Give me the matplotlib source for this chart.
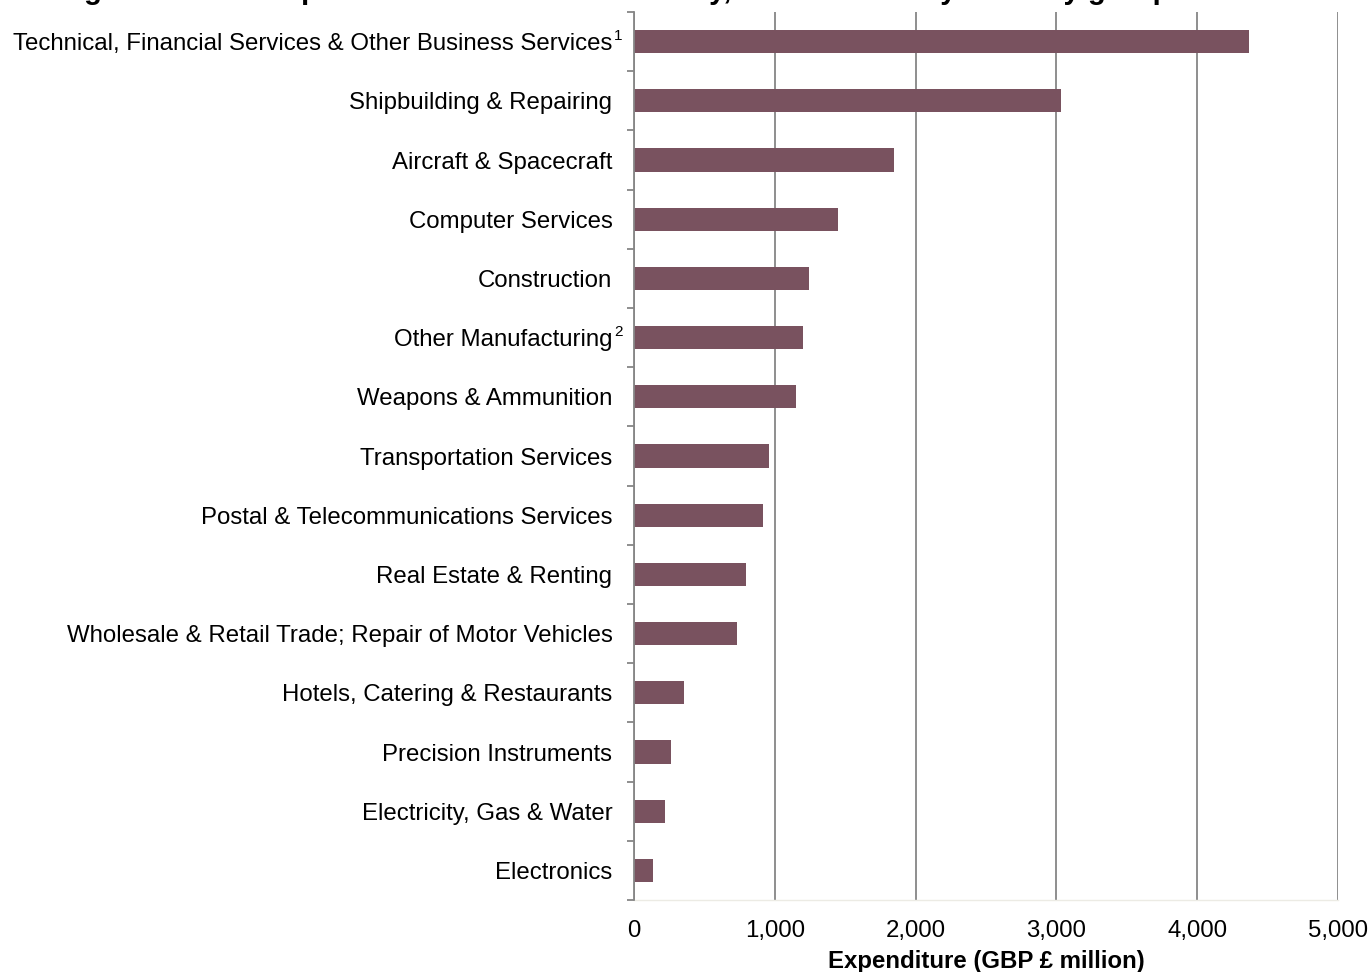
import matplotlib.pyplot as plt
from matplotlib.ticker import FuncFormatter, MultipleLocator
import numpy as np

plt.rcParams['font.family'] = ['Liberation Sans', 'DejaVu Sans']

# data (top to bottom as in the chart)
industries = [
    "Technical, Financial Services & Other Business Services",
    "Shipbuilding & Repairing",
    "Aircraft & Spacecraft",
    "Computer Services",
    "Construction",
    "Other Manufacturing",
    "Weapons & Ammunition",
    "Transportation Services",
    "Postal & Telecommunications Services",
    "Real Estate & Renting",
    "Wholesale & Retail Trade; Repair of Motor Vehicles",
    "Hotels, Catering & Restaurants",
    "Precision Instruments",
    "Electricity, Gas & Water",
    "Electronics",
]
spend = [4370, 3030, 1850, 1450, 1245, 1200, 1150, 960, 918, 798, 735, 353, 266, 218, 135]
footnotes = {0: "1", 5: "2"}

title = "Figure 1: MOD Expenditure with the UK Industry, 2012/13 total by industry group"
xlabel = "Expenditure (GBP £ million)"

bar_color = "#79525f"
grid_color = "#868686"

fig = plt.figure(figsize=(13.72, 9.72), dpi=100)
ax = fig.add_axes([634 / 1372, 72 / 972, 704 / 1372, 888 / 972])

y = np.arange(len(industries))
ax.barh(y, spend, height=0.39, color=bar_color, zorder=3)
ax.set_ylim(len(industries) - 0.5, -0.5)
ax.set_xlim(0, 5000)

# category labels
ax.set_yticks(y)
ax.set_yticklabels(industries, fontsize=17.3)
ax.tick_params(axis='y', which='major', length=0, pad=15.5)
ax.set_yticks(np.arange(len(industries) + 1) - 0.5, minor=True)
ax.tick_params(axis='y', which='minor', length=5, width=1.3, color=grid_color, direction='out')

# footnote markers hanging after the label
for i, mark in footnotes.items():
    ax.annotate(mark, xy=(0, i), xycoords=('axes fraction', 'data'),
                xytext=(-14.5, 1), textcoords='offset points',
                ha='left', va='baseline', fontsize=11)

# x axis
ax.xaxis.set_major_locator(MultipleLocator(1000))
ax.xaxis.set_major_formatter(FuncFormatter(lambda v, p: f"{int(v):,}"))
ax.tick_params(axis='x', length=0, labelsize=17.3, pad=14.5)
ax.set_xlabel(xlabel, fontsize=17.3, fontweight='bold', labelpad=6)
ax.grid(axis='x', color=grid_color, linewidth=1.3, zorder=0)

for s in ['top', 'right']:
    ax.spines[s].set_visible(False)
ax.spines['left'].set_color(grid_color)
ax.spines['left'].set_linewidth(1.3)
ax.spines['left'].set_zorder(4)
ax.spines['bottom'].set_color('#ecebe4')
ax.spines['bottom'].set_linewidth(1)

# title sits mostly above the top edge, as in the source
fig.text(58 / 1372, 1 + 1 / 972, title, fontsize=21, fontweight='bold',
         ha='left', va='baseline')

fig.savefig("out.png", dpi=100)
